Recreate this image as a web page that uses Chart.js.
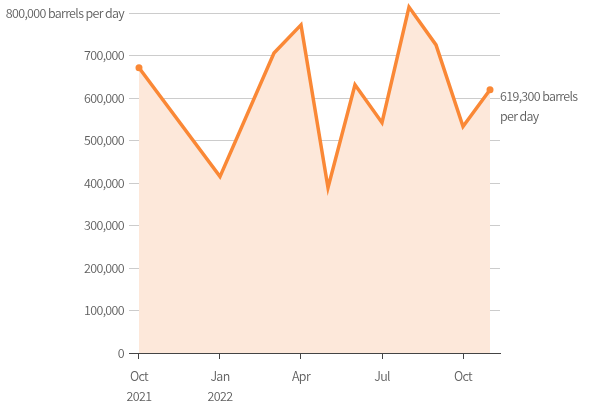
<!DOCTYPE html>
<html>
<head>
<meta charset="utf-8">
<script src="https://cdn.jsdelivr.net/npm/chart.js@4/dist/chart.umd.min.js"></script>
<style>
html,body{margin:0;padding:0;background:#fff;}
#wrap{width:600px;height:410px;position:relative;}
</style>
</head>
<body>
<div id="wrap"><canvas id="c" width="600" height="410"></canvas></div>
<script>
// Data (monthly production, barrels per day)
const months = ["2021-10","2022-01","2022-03","2022-04","2022-05","2022-06","2022-07","2022-08","2022-09","2022-10","2022-11"];
const values = [671000, 415000, 706000, 772000, 389000, 631000, 542000, 814000, 725000, 533000, 619300];
const xTickMonths = ["2021-10","2022-01","2022-04","2022-07","2022-10"];
const xTickLabels = [["Oct","2021"],["Jan","2022"],["Apr"],["Jul"],["Oct"]];
const yTicks = [0,100000,200000,300000,400000,500000,600000,700000,800000];
const lastLabel = ["619,300 barrels","per day"];

const FONT = "'Noto Sans CJK SC', 'Roboto', sans-serif";
const startY = 2021, startM = 10;
function monthIndex(s){ const [y,m] = s.split("-").map(Number); return (y-startY)*12 + (m-startM); }
const points = months.map((m,i)=>({x: monthIndex(m), y: values[i]}));
const tickIdx = xTickMonths.map(monthIndex);

const narrowText = {
  id:'narrowText',
  beforeDraw(chart){ try { chart.ctx.letterSpacing = '-0.65px'; } catch(e){} }
};

const endLabel = {
  id:'endLabel',
  afterDatasetsDraw(chart){
    const ctx = chart.ctx;
    const meta = chart.getDatasetMeta(0);
    const p = meta.data[meta.data.length-1];
    ctx.save();
    ctx.font = "350 12.5px " + FONT;
    ctx.fillStyle = "#5f5f5f";
    ctx.textAlign = "left";
    ctx.textBaseline = "middle";
    ctx.fillText(lastLabel[0], p.x + 10, p.y + 6);
    ctx.fillText(lastLabel[1], p.x + 10, p.y + 26);
    ctx.restore();
  }
};

new Chart(document.getElementById('c'), {
  type: 'line',
  data: {
    datasets: [{
      data: points,
      borderColor: '#fa8836',
      borderWidth: 3.5,
      backgroundColor: '#fde8da',
      fill: 'origin',
      tension: 0,
      clip: false,
      pointRadius: ctx => (ctx.dataIndex === 0 || ctx.dataIndex === points.length-1) ? 3.5 : 0,
      pointBackgroundColor: '#fa8836',
      pointBorderWidth: 0,
      borderJoinStyle: 'miter'
    }]
  },
  options: {
    responsive: false,
    animation: false,
    events: [],
    layout: { padding: { top: 13, right: 100, left: 0, bottom: 0 } },
    plugins: { legend: { display: false }, tooltip: { enabled: false } },
    scales: {
      x: {
        type: 'linear',
        min: -0.37,
        max: 13.37,
        afterBuildTicks: s => { s.ticks = tickIdx.map(v => ({value: v})); },
        afterFit: s => { s.height = 57; },
        ticks: {
          autoSkip: false,
          maxRotation: 0,
          padding: 7,
          color: '#5f5f5f',
          font: { family: FONT, size: 12.5, weight: 350, lineHeight: 1.6 },
          callback: (v) => { const i = tickIdx.indexOf(v); return i >= 0 ? xTickLabels[i] : ''; }
        },
        grid: { drawOnChartArea: false, drawTicks: true, tickLength: 6, color: '#444', lineWidth: 1 },
        border: { display: true, color: '#444', width: 1 }
      },
      y: {
        min: 0,
        max: 800000,
        afterBuildTicks: s => { s.ticks = yTicks.map(v => ({value: v})); },
        afterFit: s => { s.width = 129; },
        ticks: {
          padding: 5,
          color: '#5f5f5f',
          font: { family: FONT, size: 12.5, weight: 350 },
          callback: v => v === 800000 ? v.toLocaleString('en-US') + ' barrels per day' : v.toLocaleString('en-US')
        },
        grid: { color: '#cccccc', lineWidth: 1, drawTicks: false },
        border: { display: false }
      }
    }
  },
  plugins: [narrowText, endLabel]
});
</script>
</body>
</html>
